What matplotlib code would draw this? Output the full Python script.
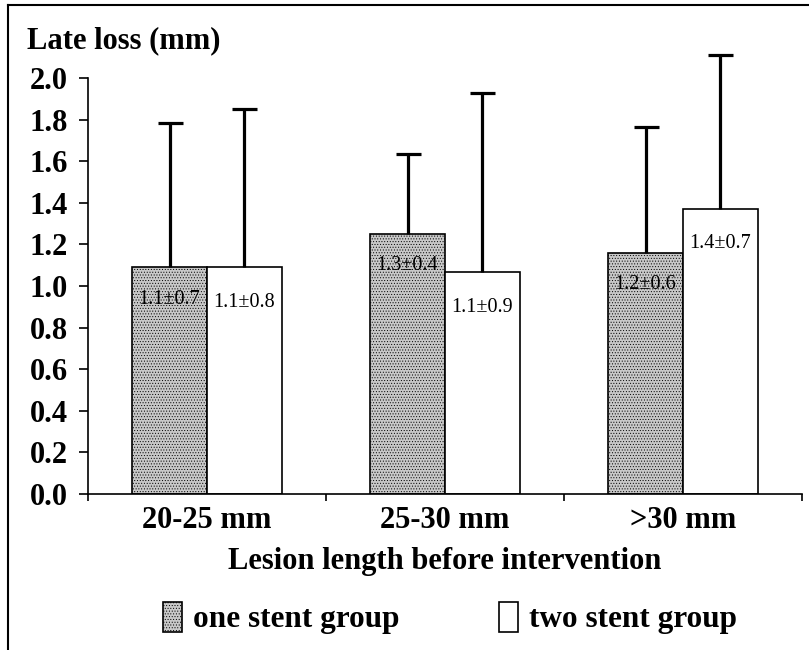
import numpy as np
import matplotlib
matplotlib.use('Agg')
import matplotlib.pyplot as plt
from matplotlib.lines import Line2D

# Datos
grupos = ['20-25 mm', '25-30 mm', '>30 mm']
una_media = [1.09, 1.25, 1.16]
una_de = [0.695, 0.385, 0.605]
dos_media = [1.09, 1.065, 1.37]
dos_de = [0.76, 0.865, 0.74]
una_txt = ['1.1\u00b10.7', '1.3\u00b10.4', '1.2\u00b10.6']
dos_txt = ['1.1\u00b10.8', '1.1\u00b10.9', '1.4\u00b10.7']
yticks = [0.0, 0.2, 0.4, 0.6, 0.8, 1.0, 1.2, 1.4, 1.6, 1.8, 2.0]

plt.rcParams['font.family'] = ['Liberation Serif', 'DejaVu Serif']
plt.rcParams['hatch.color'] = '#9a9a9a'
plt.rcParams['hatch.linewidth'] = 0.4

fig = plt.figure(figsize=(8.09, 6.5), dpi=100)
ax = fig.add_axes([88 / 809, 156 / 650, 714 / 809, 447.2 / 650])

x = np.arange(len(grupos))
w = 0.315
err_kw = dict(elinewidth=2.3, capthick=2.3, capsize=9, ecolor='black')

b1 = ax.bar(x - w / 2, una_media, w, color='#c8c8c8', edgecolor='black',
            linewidth=1.2, hatch='......',
            yerr=[np.zeros(3), una_de], error_kw=err_kw,
            label='one stent group')
b2 = ax.bar(x + w / 2, dos_media, w, color='white', edgecolor='black',
            linewidth=1.2,
            yerr=[np.zeros(3), dos_de], error_kw=err_kw,
            label='two stent group')

# Solo bigote superior: ocultar la tapa inferior
for b in (b1, b2):
    caps = b.errorbar.lines[1]
    caps[0].set_visible(False)

# Etiquetas dentro de las barras
for i in range(len(grupos)):
    ax.annotate(una_txt[i], (x[i] - w / 2, una_media[i]), xytext=(0, -23),
                textcoords='offset points', ha='center', va='center',
                fontsize=14.5)
    ax.annotate(dos_txt[i], (x[i] + w / 2, dos_media[i]), xytext=(0, -25),
                textcoords='offset points', ha='center', va='center',
                fontsize=14.5)

ax.set_xlim(-0.5, 2.5)
ax.set_ylim(0, 2.15)
ax.spines['top'].set_visible(False)
ax.spines['right'].set_visible(False)
ax.spines['left'].set_bounds(0, 2.0)
for s in ['left', 'bottom']:
    ax.spines[s].set_linewidth(1.2)

ax.set_yticks(yticks)
ax.set_yticklabels(['%.1f' % v for v in yticks], fontsize=22, fontweight='bold')
ax.tick_params(axis='y', length=6.5, width=1.2, pad=8)

ax.set_xticks(x)
ax.set_xticklabels(grupos, fontsize=22, fontweight='bold')
ax.set_xticks([-0.5, 0.5, 1.5, 2.5], minor=True)
ax.tick_params(axis='x', which='major', length=0, pad=9)
ax.tick_params(axis='x', which='minor', length=5, width=1.2, direction='out')

ax.set_xlabel('Lesion length before intervention', fontsize=22,
              fontweight='bold', labelpad=8)

fig.text(27 / 809, 1 - 48 / 650, 'Late loss (mm)', fontsize=22,
         fontweight='bold', va='baseline', ha='left')

ax.legend(loc='center', bbox_to_anchor=(450 / 809, 1 - 618 / 650),
          bbox_transform=fig.transFigure, ncol=2, frameon=False,
          prop={'size': 22.5, 'weight': 'bold'}, handlelength=0.6,
          handleheight=1.1, handletextpad=0.35, columnspacing=3.2)

# Marco de la figura
fig.add_artist(Line2D([8 / 809, 8 / 809], [0, 1 - 5 / 650], color='black',
                      lw=1.5, transform=fig.transFigure))
fig.add_artist(Line2D([8 / 809, 1], [1 - 5 / 650, 1 - 5 / 650], color='black',
                      lw=1.5, transform=fig.transFigure))

fig.savefig('out.png', dpi=100)
